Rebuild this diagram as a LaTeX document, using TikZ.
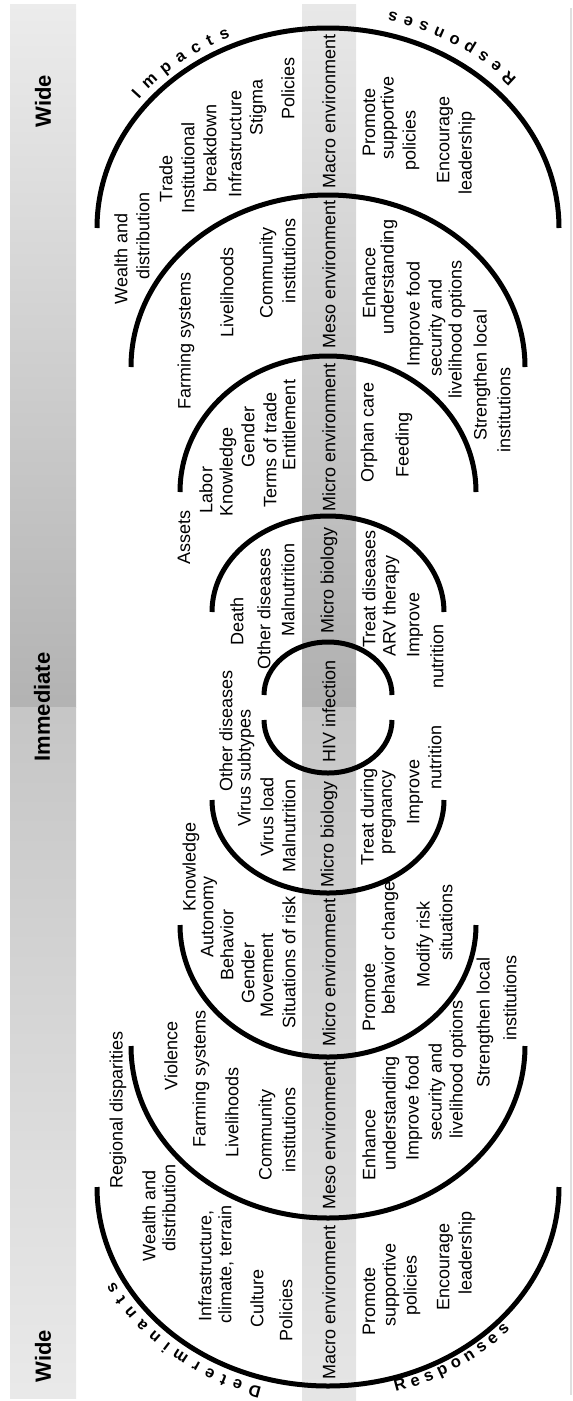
\documentclass[tikz,border=0pt]{standalone}
\usepackage{fontspec}
\setmainfont{Liberation Sans}
\usetikzlibrary{decorations.text}

\begin{document}
\begin{tikzpicture}[x=1pt, y=1pt,
    lbl/.style={rotate=90, inner sep=0pt, font=\fontsize{18}{20}\selectfont},
    level/.style={rotate=90, inner sep=0pt, font=\bfseries\fontsize{22}{24}\selectfont},
    ring/.style={line width=5pt},
    curved/.style={decorate, decoration={text along path, text align={fit to path},
        text={|\bfseries\fontsize{16.5}{16.5}\selectfont|#1}}}]
    \useasboundingbox (0,0) rectangle (573,-1401);

    % grey bands
    \shade[top color=gray!15, bottom color=gray!60] (10,-4) rectangle (76,-707);
    \shade[top color=gray!45, bottom color=gray!17] (10,-707) rectangle (76,-1398);
    \shade[top color=gray!18, bottom color=gray!62] (302,-4) rectangle (356,-707);
    \shade[top color=gray!44, bottom color=gray!20] (302,-707) rectangle (356,-1401);
    \draw[gray!25, line width=1.5pt] (571,-8) -- (571,-1395);

    \node[level] (wideTop) at (43,-101) {Wide};
    \node[level] (immediate) at (42,-707) {Immediate};
    \node[level] (wideBottom) at (43,-1356) {Wide};

    % rings
    \draw[ring] (97,-228) arc[start angle=180, end angle=0, x radius=231, y radius=200];
    \draw[ring] (131,-367) arc[start angle=180, end angle=0, x radius=197, y radius=172];
    \draw[ring] (180,-492) arc[start angle=180, end angle=0, x radius=148, y radius=136];
    \draw[ring] (212,-612) arc[start angle=180, end angle=0, x radius=116, y radius=96];
    \draw[ring] (264,-695) arc[start angle=180, end angle=0, x radius=64, y radius=53];
    \draw[ring] (264,-720) arc[start angle=180, end angle=360, x radius=64, y radius=53];
    \draw[ring] (212,-800) arc[start angle=180, end angle=360, x radius=116, y radius=93];
    \draw[ring] (180,-925) arc[start angle=180, end angle=360, x radius=148, y radius=132];
    \draw[ring] (131,-1046) arc[start angle=180, end angle=360, x radius=197, y radius=172];
    \draw[ring] (97,-1187) arc[start angle=180, end angle=360, x radius=231, y radius=199];

    % curved titles
    \path[curved=Impacts] ([shift={(328,-228)}]142:240 and 209)
        arc[start angle=142, end angle=114, x radius=240, y radius=209];
    \path[curved=Responses] ([shift={(328,-228)}]42:254 and 223)
        arc[start angle=42, end angle=76, x radius=254, y radius=223];
    \path[curved=Determinants] ([shift={(328,-1187)}]254:240 and 208)
        arc[start angle=254, end angle=207, x radius=240, y radius=208];
    \path[curved=Responses] ([shift={(328,-1187)}]286:245 and 213)
        arc[start angle=286, end angle=318, x radius=245, y radius=213];

    % middle band
    \node[lbl] (macroTop) at (329,-111) {Macro environment};
    \node[lbl] (mesoTop) at (329,-274) {Meso environment};
    \node[lbl] (microTop) at (329,-437) {Micro environment};
    \node[lbl] (bioTop) at (329,-580) {Micro biology};
    \node[lbl] (hiv) at (329,-711) {HIV infection};
    \node[lbl] (bioBottom) at (329,-834) {Micro biology};
    \node[lbl] (microBottom) at (329,-972) {Micro environment};
    \node[lbl] (mesoBottom) at (329,-1135) {Meso environment};
    \node[lbl] (macroBottom) at (329,-1302) {Macro environment};

    % impacts
    \node[lbl] (impWealth) at (121,-259) {Wealth and};
    \node[lbl] (impDistr) at (143,-236) {distribution};
    \node[lbl] (impTrade) at (166,-179) {Trade};
    \node[lbl] (impInst) at (188,-168) {Institutional};
    \node[lbl] (impBreak) at (210,-148) {breakdown};
    \node[lbl] (impInfra) at (235,-144) {Infrastructure};
    \node[lbl] (impStigma) at (258,-107) {Stigma};
    \node[lbl] (impPolicies) at (288,-88) {Policies};
    \node[lbl] (impFarming) at (186,-341) {Farming systems};
    \node[lbl] (impLive) at (227,-292) {Livelihoods};
    \node[lbl] (impComm) at (268,-273) {Community};
    \node[lbl] (impCommInst) at (289,-261) {institutions};
    \node[lbl] (impAssets) at (184,-537) {Assets};
    \node[lbl] (impLabor) at (206,-490) {Labor};
    \node[lbl] (impKnow) at (228,-472) {Knowledge};
    \node[lbl] (impGender) at (248,-437) {Gender};
    \node[lbl] (impTerms) at (270,-450) {Terms of trade};
    \node[lbl] (impEntitle) at (289,-425) {Entitlement};
    \node[lbl] (impDeath) at (237,-621) {Death};
    \node[lbl] (impOther) at (264,-609) {Other diseases};
    \node[lbl] (impMal) at (288,-590) {Malnutrition};

    % responses to impacts
    \node[lbl] (rimPromote) at (369,-122) {Promote};
    \node[lbl] (rimSupport) at (389,-118) {supportive};
    \node[lbl] (rimPolicies) at (411,-140) {policies};
    \node[lbl] (rimEncourage) at (445,-140) {Encourage};
    \node[lbl] (rimLead) at (467,-153) {leadership};
    \node[lbl] (rimEnhance) at (369,-283) {Enhance};
    \node[lbl] (rimUnder) at (389,-277) {understanding};
    \node[lbl] (rimFood) at (415,-314) {Improve food};
    \node[lbl] (rimSecurity) at (437,-328) {security and};
    \node[lbl] (rimOptions) at (457,-329) {livelihood options};
    \node[lbl] (rimStrengthen) at (482,-375) {Strengthen local};
    \node[lbl] (rimInst) at (504,-410) {institutions};
    \node[lbl] (rimOrphan) at (369,-432) {Orphan care};
    \node[lbl] (rimFeeding) at (404,-445) {Feeding};
    \node[lbl] (rimTreat) at (369,-589) {Treat diseases};
    \node[lbl] (rimArv) at (391,-606) {ARV therapy};
    \node[lbl] (rimImprove) at (415,-625) {Improve};
    \node[lbl] (rimNutrition) at (437,-656) {nutrition};

    % determinants
    \node[lbl] (detOther) at (226,-731) {Other diseases};
    \node[lbl] (detSubtypes) at (246,-768) {Virus subtypes};
    \node[lbl] (detLoad) at (267,-817) {Virus load};
    \node[lbl] (detMal) at (289,-826) {Malnutrition};
    \node[lbl] (detKnow) at (191,-867) {Knowledge};
    \node[lbl] (detAuto) at (209,-917) {Autonomy};
    \node[lbl] (detBehav) at (227,-945) {Behavior};
    \node[lbl] (detGender) at (248,-973) {Gender};
    \node[lbl] (detMove) at (267,-975) {Movement};
    \node[lbl] (detRisk) at (289,-962) {Situations of risk};
    \node[lbl] (detRegion) at (118,-1110) {Regional disparities};
    \node[lbl] (detViolence) at (171,-1056) {Violence};
    \node[lbl] (detFarming) at (201,-1079) {Farming systems};
    \node[lbl] (detLive) at (232,-1112) {Livelihoods};
    \node[lbl] (detComm) at (267,-1135) {Community};
    \node[lbl] (detCommInst) at (289,-1130) {institutions};
    \node[lbl] (detWealth) at (149,-1216) {Wealth and};
    \node[lbl] (detDistr) at (169,-1208) {distribution};
    \node[lbl] (detInfra) at (206,-1266) {Infrastructure,};
    \node[lbl] (detClimate) at (226,-1264) {climate, terrain};
    \node[lbl] (detCulture) at (257,-1298) {Culture};
    \node[lbl] (detPolicies) at (286,-1310) {Policies};

    % responses to determinants
    \node[lbl] (rdeTreat) at (369,-817) {Treat during};
    \node[lbl] (rdePreg) at (389,-812) {pregnancy};
    \node[lbl] (rdeImprove) at (415,-792) {Improve};
    \node[lbl] (rdeNutrition) at (435,-757) {nutrition};
    \node[lbl] (rdePromoteB) at (369,-997) {Promote};
    \node[lbl] (rdeBehav) at (390,-948) {behavior change};
    \node[lbl] (rdeModify) at (425,-944) {Modify risk};
    \node[lbl] (rdeSituations) at (446,-922) {situations};
    \node[lbl] (rdeEnhance) at (369,-1145) {Enhance};
    \node[lbl] (rdeUnder) at (391,-1113) {understanding};
    \node[lbl] (rdeFood) at (414,-1108) {Improve food};
    \node[lbl] (rdeSecurity) at (437,-1092) {security and};
    \node[lbl] (rdeOptions) at (458,-1069) {livelihood options};
    \node[lbl] (rdeStrengthen) at (485,-1022) {Strengthen local};
    \node[lbl] (rdeInst) at (510,-998) {institutions};
    \node[lbl] (rdePromote) at (369,-1301) {Promote};
    \node[lbl] (rdeSupport) at (391,-1285) {supportive};
    \node[lbl] (rdePolicies) at (412,-1285) {policies};
    \node[lbl] (rdeEncourage) at (445,-1267) {Encourage};
    \node[lbl] (rdeLead) at (467,-1253) {leadership};
\end{tikzpicture}
\end{document}
